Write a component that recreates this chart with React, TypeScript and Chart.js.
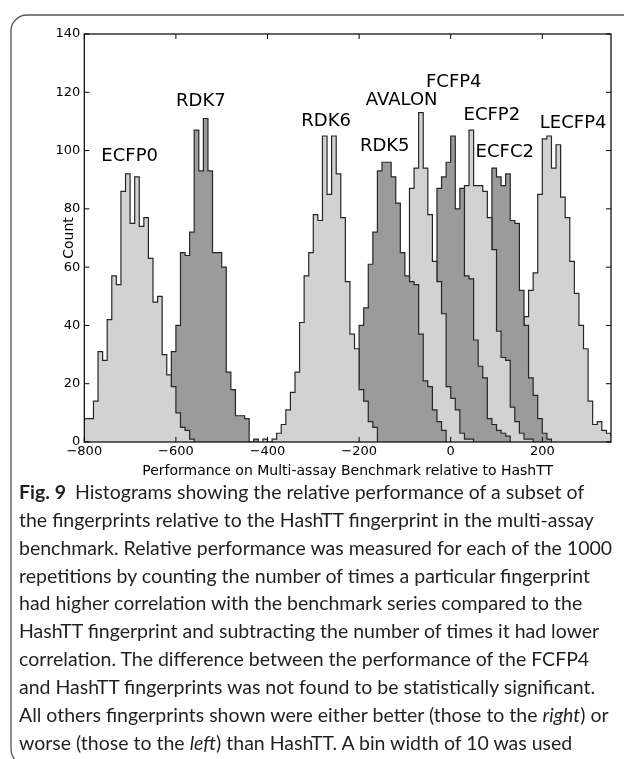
import React, { useEffect, useRef } from 'react';
import { Chart, registerables } from 'chart.js';

Chart.register(...registerables);

// ---------- data ----------
const BIN_WIDTH = 10;
const X_MIN = -800;
const X_MAX = 350;
const Y_MIN = 0;
const Y_MAX = 140;
const xTickValues = [-800, -600, -400, -200, 0, 200];
const yTickValues = [0, 20, 40, 60, 80, 100, 120, 140];

const seriesNames = ['ECFP0', 'RDK7', 'RDK6', 'RDK5', 'AVALON', 'FCFP4', 'ECFP2', 'ECFC2', 'LECFP4'];
// left edge of the first bin of each histogram
const binStarts = [-810, -630, -410, -220, -150, -70, -10, 40, 130];

const ecfp0Counts = [6, 8, 8, 14, 31, 28, 42, 57, 54, 86, 92, 75, 91, 74, 77, 63, 48, 50, 30, 23, 19, 10, 5, 4, 1];
const rdk7Counts = [8, 12, 31, 40, 65, 64, 72, 107, 93, 111, 93, 65, 65, 60, 24, 18, 9, 9, 8, 0, 1];
const rdk6Counts = [1, 0, 1, 3, 6, 11, 17, 24, 41, 57, 65, 78, 76, 105, 85, 105, 92, 77, 55, 37, 32, 18, 14, 7, 5];
const rdk5Counts = [5, 20, 40, 46, 61, 72, 93, 96, 96, 91, 82, 65, 57, 55, 54, 37, 21, 19, 11, 7, 4];
const avalonCounts = [2, 5, 12, 25, 40, 50, 87, 94, 113, 94, 78, 62, 55, 44, 19, 15, 11, 3, 1, 1];
const fcfp4Counts = [3, 8, 20, 45, 87, 91, 96, 105, 80, 87, 57, 56, 35, 26, 22, 8, 6, 4, 3, 2];
const ecfp2Counts = [8, 20, 45, 70, 88, 107, 88, 88, 86, 77, 66, 38, 29, 28, 12, 7, 3, 1, 1];
const ecfc2Counts = [5, 12, 25, 45, 65, 94, 91, 88, 92, 76, 75, 52, 40, 22, 16, 8, 3, 1];
const lecfp4Counts = [5, 10, 25, 43, 52, 58, 85, 104, 105, 94, 102, 84, 77, 62, 51, 40, 32, 14, 6, 7, 4, 3, 2];

const allCounts = [ecfp0Counts, rdk7Counts, rdk6Counts, rdk5Counts, avalonCounts, fcfp4Counts, ecfp2Counts, ecfc2Counts, lecfp4Counts];

// label anchor (centre of capitals) in data units
const labelXs = [-701, -545.5, -272, -144, -107, 6.7, 89.8, 118, 267.3];
const labelYs = [98.5, 117.4, 110.8, 102.2, 118, 124.2, 112.6, 100.1, 109.9];

const xAxisTitle = 'Performance on Multi-assay Benchmark relative to HashTT';
const yAxisTitle = 'Count';

const captionLines = [
  'Histograms showing the relative performance of a subset of',
  'the fingerprints relative to the HashTT fingerprint in the multi-assay',
  'benchmark. Relative performance was measured for each of the 1000',
  'repetitions by counting the number of times a particular fingerprint',
  'had higher correlation with the benchmark series compared to the',
  'HashTT fingerprint and subtracting the number of times it had lower',
  'correlation. The difference between the performance of the FCFP4',
  'and HashTT fingerprints was not found to be statistically significant.',
  'All others fingerprints shown were either better (those to the *right*) or',
  'worse (those to the *left*) than HashTT. A bin width of 10 was used',
];

// ---------- styles ----------
const LIGHT = '#d2d2d2';
const DARK = '#9b9b9b';
const EDGE = '#262626';
const TICK_FONT = 'DejaVu Sans';

function histPoints(start: number, counts: number[]) {
  const pts = [{ x: start, y: 0 }];
  counts.forEach((c, i) => pts.push({ x: start + i * BIN_WIDTH, y: c }));
  pts.push({ x: start + counts.length * BIN_WIDTH, y: 0 });
  return pts;
}

const fmt = (v: number) => (v < 0 ? '\u2212' + Math.abs(v) : String(v));

const overlayPlugin = {
  id: 'overlay',
  afterDraw(chart: any) {
    const { ctx, chartArea: a, scales } = chart;
    const xs = scales.x;
    const ys = scales.y;
    ctx.save();
    ctx.fillStyle = '#000';
    ctx.font = '18px "DejaVu Sans"';
    ctx.textAlign = 'center';
    ctx.textBaseline = 'alphabetic';
    seriesNames.forEach((n, i) => {
      ctx.fillText(n, xs.getPixelForValue(labelXs[i]), ys.getPixelForValue(labelYs[i]) + 6.5);
    });
    ctx.strokeStyle = '#000';
    ctx.lineWidth = 1.2;
    ctx.strokeRect(a.left, a.top, a.right - a.left, a.bottom - a.top);
    ctx.lineWidth = 1;
    ctx.beginPath();
    xTickValues.forEach((v) => {
      const px = xs.getPixelForValue(v);
      ctx.moveTo(px, a.bottom);
      ctx.lineTo(px, a.bottom - 5);
      ctx.moveTo(px, a.top);
      ctx.lineTo(px, a.top + 5);
    });
    yTickValues.forEach((v) => {
      const py = ys.getPixelForValue(v);
      ctx.moveTo(a.left, py);
      ctx.lineTo(a.left + 5, py);
      ctx.moveTo(a.right, py);
      ctx.lineTo(a.right - 5, py);
    });
    ctx.stroke();
    ctx.restore();
  },
};

function renderSegments(line: string) {
  const parts = line.split('*');
  return parts.map((p, i) => (
    <tspan key={i} fontStyle={i % 2 === 1 ? 'italic' : 'normal'}>
      {p}
    </tspan>
  ));
}

export default function App() {
  const canvasRef = useRef<HTMLCanvasElement | null>(null);

  useEffect(() => {
    const canvas = canvasRef.current;
    if (!canvas) return;
    const datasets = seriesNames.map((name, i) => ({
      label: name,
      data: histPoints(binStarts[i], allCounts[i]),
      stepped: 'before' as const,
      fill: 'origin',
      backgroundColor: i % 2 === 0 ? LIGHT : DARK,
      borderColor: EDGE,
      borderWidth: 1.2,
      pointRadius: 0,
      order: i,
      clip: 0,
    }));
    const chart = new Chart(canvas, {
      type: 'line',
      data: { datasets } as any,
      options: {
        animation: false,
        responsive: false,
        maintainAspectRatio: false,
        layout: { padding: { top: 34, right: 13, bottom: 0, left: 0 } },
        plugins: { legend: { display: false }, tooltip: { enabled: false } },
        elements: { line: { tension: 0 } },
        scales: {
          x: {
            type: 'linear',
            min: X_MIN,
            max: X_MAX,
            afterBuildTicks: (s: any) => {
              s.ticks = xTickValues.map((v) => ({ value: v }));
            },
            afterFit: (s: any) => {
              s.height = 48;
            },
            grid: { display: false, drawTicks: false },
            border: { display: false },
            ticks: {
              padding: 2,
              color: '#000',
              maxRotation: 0,
              autoSkip: false,
              font: { family: TICK_FONT, size: 13 },
              callback: (v: any) => fmt(Number(v)),
            },
            title: {
              display: true,
              text: xAxisTitle,
              color: '#000',
              font: { family: TICK_FONT, size: 14 },
              padding: { top: 0, bottom: 10 },
            },
          },
          y: {
            type: 'linear',
            min: Y_MIN,
            max: Y_MAX,
            afterBuildTicks: (s: any) => {
              s.ticks = yTickValues.map((v) => ({ value: v }));
            },
            afterFit: (s: any) => {
              s.width = 84.3;
            },
            grid: { display: false, drawTicks: false },
            border: { display: false },
            ticks: {
              padding: 4,
              color: '#000',
              font: { family: TICK_FONT, size: 13 },
              callback: (v: any) => fmt(Number(v)),
            },
            title: {
              display: true,
              text: yAxisTitle,
              color: '#000',
              font: { family: TICK_FONT, size: 14 },
              padding: { top: 61, bottom: 0 },
            },
          },
        },
      } as any,
      plugins: [overlayPlugin],
    });
    return () => chart.destroy();
  }, []);

  return (
    <div
      style={{
        position: 'fixed',
        left: 0,
        top: 0,
        width: 624,
        height: 759,
        background: '#fff',
        overflow: 'hidden',
      }}
    >
      <canvas
        ref={canvasRef}
        width={624}
        height={490}
        style={{ position: 'absolute', left: 0, top: 0, width: 624, height: 490 }}
      />
      <svg
        width={624}
        height={759}
        style={{ position: 'absolute', left: 0, top: 0, pointerEvents: 'none' }}
      >
        <path
          d="M 640 15 L 27 15 A 16 16 0 0 0 11 31 L 11 749 A 16 16 0 0 0 27 765 L 640 765"
          fill="none"
          stroke="#555"
          strokeWidth={1.3}
        />
        {captionLines.map((line, i) => (
          <text
            key={i}
            x={19}
            y={499 + i * 27.85}
            fontFamily="Lato"
            fontSize={19.5}
            fill="#231f20"
          >
            {i === 0 ? <tspan fontWeight="bold">Fig. 9</tspan> : null}
            {i === 0 ? <tspan dx={9}>{line}</tspan> : renderSegments(line)}
          </text>
        ))}
      </svg>
    </div>
  );
}
